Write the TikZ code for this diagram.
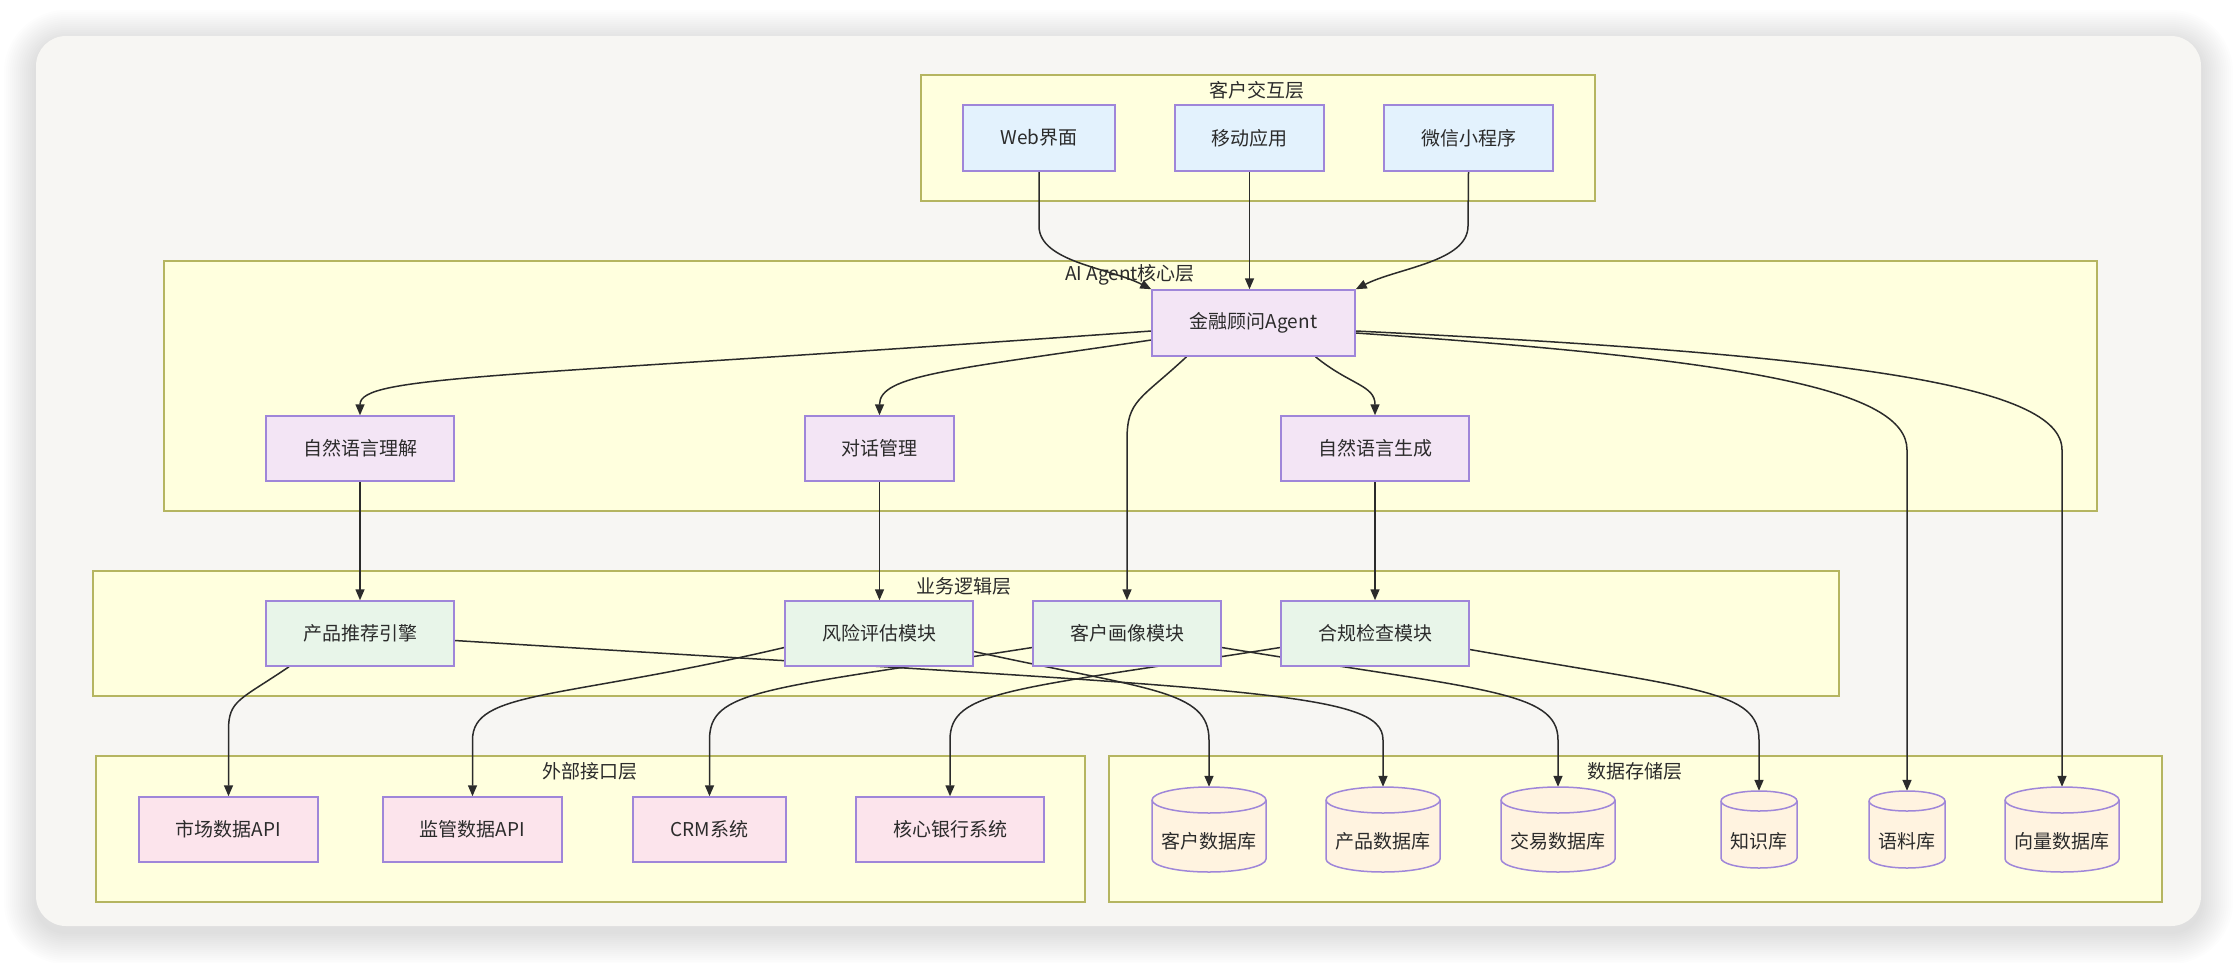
\documentclass[tikz,border=0pt]{standalone}
\usepackage{fontspec}
\setmainfont{Noto Sans CJK SC}
\usetikzlibrary{arrows.meta}
\definecolor{cardbg}{HTML}{F7F6F3}
\definecolor{layerfill}{HTML}{FFFFDE}
\definecolor{layerdraw}{HTML}{B5B560}
\definecolor{nodedraw}{HTML}{9F86D9}
\definecolor{clientfill}{HTML}{E3F2FD}
\definecolor{aifill}{HTML}{F3E5F5}
\definecolor{bizfill}{HTML}{E8F5E9}
\definecolor{extfill}{HTML}{FCE4EC}
\definecolor{dbfill}{HTML}{FFF3E0}
\definecolor{inkcol}{HTML}{2B2B2B}
\pgfdeclarelayer{bglayer}
\pgfdeclarelayer{edgelayer}
\pgfsetlayers{bglayer,edgelayer,main}
\newcommand\dbcyl[7]{%
  \filldraw[dbshape] (#2-#4,#3+#5-#6) -- (#2-#4,#3-#5+#6)
     arc[start angle=180,end angle=360,x radius=#4,y radius=#6]
     -- (#2+#4,#3+#5-#6)
     arc[start angle=0,end angle=180,x radius=#4,y radius=#6] -- cycle;
  \draw[dbshape] (#2-#4,#3+#5-#6) arc[start angle=180,end angle=360,x radius=#4,y radius=#6];
  \node[dbnode, minimum width=2*#4pt, minimum height=2*#5pt,
        label={[dblabel]center:#7}] (#1) at (#2,#3) {};
}
\begin{document}
\begin{tikzpicture}[x=1pt,y=1pt,
  font=\fontsize{19pt}{23pt}\selectfont,
  every node/.style={text=inkcol},
  basenode/.style={draw=nodedraw, line width=1.5pt, inner sep=0pt, minimum height=65pt},
  cnode/.style={basenode, fill=clientfill, minimum height=66pt},
  anode/.style={basenode, fill=aifill},
  bnode/.style={basenode, fill=bizfill, minimum width=188pt},
  enode/.style={basenode, fill=extfill},
  dbshape/.style={draw=nodedraw, fill=dbfill, line width=1.5pt},
  dbnode/.style={inner sep=0pt},
  dblabel/.style={yshift=-12pt, text=inkcol},
  layerbox/.style={draw=layerdraw, fill=layerfill, line width=1.5pt, inner sep=0pt},
  layertitle/.style={inner sep=0pt},
  conn/.style={draw=inkcol, line width=1.5pt, -{Triangle[length=11pt,width=9pt]}},
]
\useasboundingbox (0,0) rectangle (2238,-962);

\begin{pgfonlayer}{bglayer}
\fill[white] (0,0) rectangle (2238,-962);
\foreach \i in {1,...,16} {
  \fill[black, opacity=0.009, rounded corners={30pt+2*\i pt}]
    (36-2*\i,-36+2*\i-6) rectangle (2201+2*\i,-926-2*\i-6);
}
\fill[cardbg, rounded corners=30pt] (36,-36) rectangle (2201,-926);
\node[layerbox, minimum width=674pt, minimum height=126pt] (L1) at (1258,-138) {};
\node[layertitle] (T1) at (1257,-90) {客户交互层};
\node[layerbox, minimum width=1933pt, minimum height=250pt] (L2) at (1130.5,-386) {};
\node[layertitle] (T2) at (1130,-275) {AI Agent核心层};
\node[layerbox, minimum width=1746pt, minimum height=125pt] (L3) at (966,-633.5) {};
\node[layertitle] (T3) at (964,-586) {业务逻辑层};
\node[layerbox, minimum width=989pt, minimum height=146pt] (L4) at (590.5,-829) {};
\node[layertitle] (T4) at (590,-771) {外部接口层};
\node[layerbox, minimum width=1053pt, minimum height=146pt] (L5) at (1635.5,-829) {};
\node[layertitle] (T5) at (1635,-771) {数据存储层};
\end{pgfonlayer}

% nodes
\node[cnode, minimum width=152pt] (web) at (1039,-138) {Web界面};
\node[cnode, minimum width=149pt] (mobile) at (1249.5,-138) {移动应用};
\node[cnode, minimum width=169pt] (wechat) at (1468.5,-138) {微信小程序};
\node[anode, minimum width=203pt, minimum height=66pt] (agent) at (1253.5,-323) {金融顾问Agent};
\node[anode, minimum width=188pt] (nlu) at (360,-448.5) {自然语言理解};
\node[anode, minimum width=149pt] (dm) at (879.5,-448.5) {对话管理};
\node[anode, minimum width=188pt] (nlg) at (1375,-448.5) {自然语言生成};
\node[bnode] (prod) at (360,-633.5) {产品推荐引擎};
\node[bnode] (risk) at (879,-633.5) {风险评估模块};
\node[bnode] (portrait) at (1127,-633.5) {客户画像模块};
\node[bnode] (comp) at (1375,-633.5) {合规检查模块};
\node[enode, minimum width=179pt] (market) at (228.5,-829.5) {市场数据API};
\node[enode, minimum width=179pt] (reg) at (472.5,-829.5) {监管数据API};
\node[enode, minimum width=153pt] (crm) at (709.5,-829.5) {CRM系统};
\node[enode, minimum width=188pt] (core) at (950,-829.5) {核心银行系统};
\dbcyl{custdb}{1209}{-829.5}{57}{42.5}{13}{客户数据库}
\dbcyl{proddb}{1383}{-829.5}{57}{42.5}{13}{产品数据库}
\dbcyl{txdb}{1558}{-829.5}{57}{42.5}{13}{交易数据库}
\dbcyl{kb}{1759}{-829.5}{38}{38.5}{10}{知识库}
\dbcyl{corpus}{1907}{-829.5}{38}{38.5}{10}{语料库}
\dbcyl{vecdb}{2062}{-829.5}{57}{42.5}{13}{向量数据库}

% connectors
\begin{pgfonlayer}{edgelayer}
\draw[conn] (web.south) -- (1039,-226) .. controls (1039,-262) and (1110,-268) .. (agent.north west);
\draw[conn] (mobile.south) -- (mobile.south |- agent.north);
\draw[conn] (wechat.south) -- (1468,-226) .. controls (1468,-262) and (1397,-268) .. (agent.north east);
\draw[conn] ([yshift=-8pt]agent.west) .. controls (500,-378) and (360,-375) .. (nlu.north);
\draw[conn] ([yshift=-17pt]agent.west) .. controls (950,-370) and (879.5,-375) .. (dm.north);
\draw[conn] ([xshift=-67pt]agent.south) .. controls (1140,-400) and (1127,-400) .. (1127,-440) -- (portrait.north);
\draw[conn] ([xshift=62pt]agent.south) .. controls (1350,-385) and (1375,-385) .. (nlg.north);
\draw[conn] ([yshift=-10pt]agent.east) .. controls (1750,-360) and (1907,-390) .. (1907,-450) -- (corpus.north);
\draw[conn] ([yshift=-8pt]agent.east) .. controls (1850,-355) and (2062,-385) .. (2062,-450) -- (vecdb.north);
\draw[conn] (nlu.south) -- (prod.north);
\draw[conn] (dm.south) -- (dm.south |- risk.north);
\draw[conn] (nlg.south) -- (comp.north);
\draw[conn] ([xshift=-71pt]prod.south) .. controls (240,-700) and (228.5,-700) .. (228.5,-730) -- (market.north);
\draw[conn] ([yshift=-7pt]prod.east) .. controls (1250,-690) and (1383,-690) .. (1383,-740) -- (proddb.north);
\draw[conn] ([yshift=-14pt]risk.west) .. controls (560,-700) and (472.5,-690) .. (472.5,-740) -- (reg.north);
\draw[conn] ([yshift=-18pt]risk.east) .. controls (1150,-690) and (1209,-690) .. (1209,-740) -- (custdb.north);
\draw[conn] ([yshift=-14pt]portrait.west) .. controls (760,-690) and (709.5,-690) .. (709.5,-740) -- (crm.north);
\draw[conn] ([yshift=-14pt]portrait.east) .. controls (1480,-690) and (1558,-690) .. (1558,-740) -- (txdb.north);
\draw[conn] ([yshift=-14pt]comp.west) .. controls (1010,-690) and (950,-690) .. (950,-740) -- (core.north);
\draw[conn] ([yshift=-16pt]comp.east) .. controls (1700,-690) and (1759,-690) .. (1759,-740) -- (kb.north);
\end{pgfonlayer}
\end{tikzpicture}
\end{document}
